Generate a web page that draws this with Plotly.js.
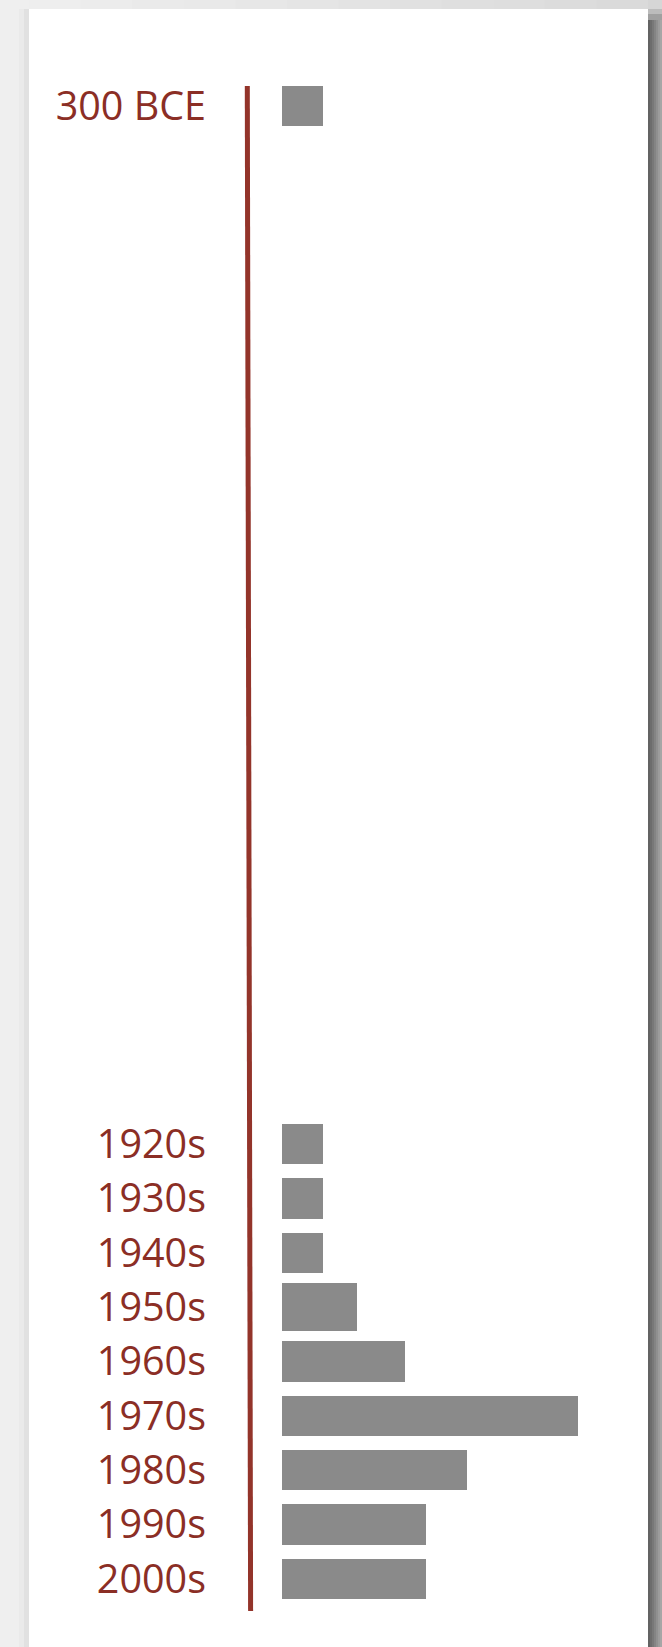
<!DOCTYPE html>
<html>
<head>
<meta charset="utf-8">
<script src="https://cdn.plot.ly/plotly-3.0.1.min.js"></script>
<style>
  html, body { margin: 0; padding: 0; background: #efefef; }
  #chart { width: 662px; height: 1647px; }
</style>
</head>
<body>
<div id="chart"></div>
<script>
// ---- data ----
const topCategory = ['300 BCE'];
const topValues = [1];
const decades = ['1920s', '1930s', '1940s', '1950s', '1960s', '1970s', '1980s', '1990s', '2000s'];
const decadeValues = [1, 1, 1, 1.83, 2.99, 7.23, 4.5, 3.52, 3.52];

// ---- layout helpers (page pixels -> paper fractions) ----
const W = 662, H = 1647;
const px = x => x / W;
const py = y => 1 - y / H;

const textColor = '#8b2e25';
const lineColor = '#93342a';
const barColor = '#8a8a8a';
const labelFont = { family: 'Open Sans, sans-serif', size: 39.5, color: textColor };

const traces = [
  {
    type: 'bar', orientation: 'h',
    x: topValues, y: topCategory,
    xaxis: 'x', yaxis: 'y',
    marker: { color: barColor, line: { width: 0, color: barColor } },
    width: 0.75,
    hoverinfo: 'skip'
  },
  {
    type: 'bar', orientation: 'h',
    x: decadeValues, y: decades,
    xaxis: 'x2', yaxis: 'y2',
    marker: { color: barColor, line: { width: 0, color: barColor } },
    width: decades.map(d => d === '1950s' ? 0.885 : 0.737),
    hoverinfo: 'skip'
  }
];

function rect(x0, y0, x1, y1, color) {
  return { type: 'rect', xref: 'paper', yref: 'paper', layer: 'below',
           x0: px(x0), x1: px(x1), y0: py(y1), y1: py(y0),
           fillcolor: color, line: { width: 0 } };
}

const shapes = [];
// top shadow: smooth horizontal gradient, darker towards the right
const topSteps = 12;
for (let i = 0; i < topSteps; i++) {
  const x0 = 29 + i * (619 / topSteps);
  const x1 = 29 + (i + 1) * (619 / topSteps);
  const g = Math.round(0xee - i * (0xee - 0xda) / (topSteps - 1));
  const c = 'rgb(' + g + ',' + g + ',' + g + ')';
  shapes.push(rect(x0, 0, x1 + 0.5, 9, c));
}
// left shadow
shapes.push(rect(19, 9, 29, H, '#eaeaea'));
shapes.push(rect(24, 9, 29, H, '#e1e1e1'));
// right shadow (gradient strips)
const rightCols = ['#636363', '#6d6d6d', '#787878', '#848484', '#909090', '#9c9c9c', '#a6a6a6'];
rightCols.forEach((c, i) => shapes.push(rect(648 + i * 2, 9, 650 + i * 2, H, c)));
// fade the right shadow at the top
shapes.push(rect(648, 0, 662, 9, '#d6d6d6'));
shapes.push(rect(648, 9, 662, 14, '#bcbcbc'));
shapes.push(rect(648, 14, 662, 20, '#a0a0a0'));
// white card
shapes.push(rect(29, 9, 648, H, '#ffffff'));
// vertical timeline line
shapes.push({ type: 'line', xref: 'paper', yref: 'paper', layer: 'above',
              x0: px(247.3), y0: py(86), x1: px(250.6), y1: py(1611),
              line: { color: lineColor, width: 5 } });

const xDomain = [px(282), px(648)];
const xRange = [0, 366 / 41];

const layout = {
  width: W, height: H,
  margin: { l: 0, r: 0, t: 0, b: 0, pad: 0 },
  paper_bgcolor: '#efefef',
  plot_bgcolor: 'rgba(0,0,0,0)',
  showlegend: false,
  bargap: 0,
  xaxis: { domain: xDomain, range: xRange, anchor: 'y', visible: false, fixedrange: true },
  xaxis2: { domain: xDomain, range: xRange, anchor: 'y2', visible: false, fixedrange: true },
  yaxis: {
    domain: [py(133), py(79.5)], anchor: 'x',
    type: 'category', range: [-0.5, 0.5],
    showgrid: false, zeroline: false, showline: false, ticks: '',
    tickfont: labelFont, ticklabelstandoff: 75, fixedrange: true
  },
  yaxis2: {
    domain: [py(1606), py(1117)], anchor: 'x2',
    type: 'category', categoryorder: 'array', categoryarray: decades,
    range: [decades.length - 0.5, -0.5],
    showgrid: false, zeroline: false, showline: false, ticks: '',
    tickfont: labelFont, ticklabelstandoff: 75, fixedrange: true
  },
  shapes: shapes
};

Plotly.newPlot('chart', traces, layout, { staticPlot: true, displayModeBar: false });
</script>
</body>
</html>
